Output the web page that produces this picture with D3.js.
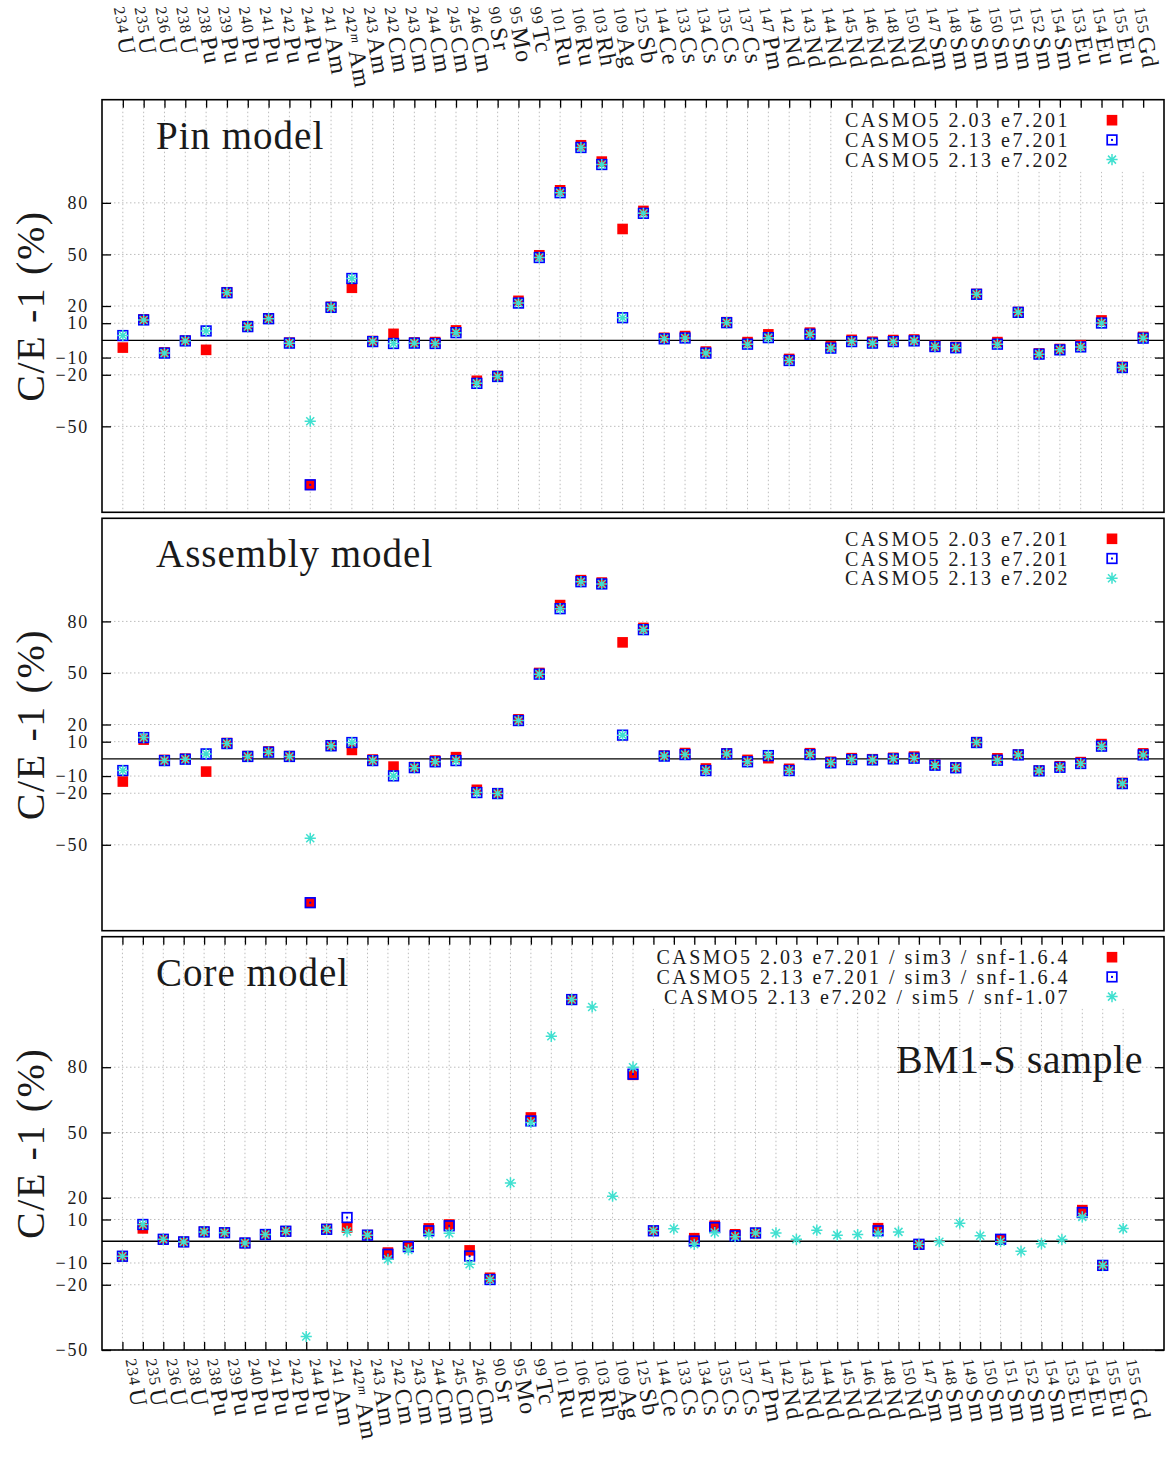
<!DOCTYPE html>
<html>
<head>
<meta charset="utf-8">
<script src="https://cdn.jsdelivr.net/npm/d3@7"></script>
<style>
  body { margin: 0; background: #fff; }
  svg { display: block; }
  text { font-family: "Liberation Serif", "Times New Roman", serif; fill: #1a1a1a; }
</style>
</head>
<body>
<svg id="chart" width="1169" height="1457"></svg>
<script>
// ---- nuclides (mass number, metastable flag, element) ----
const massNumbers = ["234","235","236","238","238","239","240","241","242","244",
  "241","242","243","242","243","244","245","246","90","95","99","101","106","103","109",
  "125","144","133","134","135","137","147","142","143","144","145","146","148","150",
  "147","148","149","150","151","152","154","153","154","155","155"];
const metastable = massNumbers.map((d, i) => i === 11 ? "m" : "");
const elements = ["U","U","U","U","Pu","Pu","Pu","Pu","Pu","Pu",
  "Am","Am","Am","Cm","Cm","Cm","Cm","Cm","Sr","Mo","Tc","Ru","Ru","Rh","Ag",
  "Sb","Ce","Cs","Cs","Cs","Cs","Pm","Nd","Nd","Nd","Nd","Nd","Nd","Nd",
  "Sm","Sm","Sm","Sm","Sm","Sm","Sm","Eu","Eu","Eu","Gd"];

const yTickValues = [-50, -20, -10, 10, 20, 50, 80];

const legendLabelsLattice = ["CASMO5 2.03 e7.201", "CASMO5 2.13 e7.201", "CASMO5 2.13 e7.202"];
const legendLabelsCore = ["CASMO5 2.03 e7.201 / sim3 / snf-1.6.4",
                          "CASMO5 2.13 e7.201 / sim3 / snf-1.6.4",
                          "CASMO5 2.13 e7.202 / sim5 / snf-1.07"];

// ---- C/E - 1 (%) : pin model ----
const pinV203 = [-4.2, 12.2, -7.0, -0.2, -5.5, 28.0, 8.3, 12.8, -1.3, -84.0,
  19.5, 30.6, -0.4, 3.8, -1.2, -1.0, 5.8, -23.5, -20.7, 23.0, 49.5, 87.3, 113.5, 104.0, 64.8,
  75.3, 1.5, 2.5, -6.5, 10.6, -1.0, 3.5, -10.8, 4.5, -3.5, 0.3, -0.8, 0.2, 0.5,
  -3.0, -3.8, 27.0, -1.0, 16.5, -7.6, -5.0, -2.8, 11.6, -15.4, 2.0];
const pinV213 = [2.8, 11.9, -7.4, -0.3, 5.5, 27.7, 8.0, 12.6, -1.6, -84.0,
  19.2, 36.0, -0.7, -1.8, -1.6, -1.8, 4.5, -25.0, -21.0, 21.7, 48.2, 85.9, 112.2, 102.3, 13.2,
  73.9, 0.9, 1.4, -7.4, 10.3, -2.2, 1.6, -11.7, 3.6, -4.5, -0.7, -1.6, -0.7, -0.3,
  -3.6, -4.3, 26.8, -2.2, 16.3, -8.0, -5.5, -3.8, 10.1, -15.8, 1.3];
const pinV213b = [2.8, 11.9, -7.4, -0.3, 5.5, 27.7, 8.0, 12.6, -1.6, -47.0,
  19.2, 36.0, -0.7, -1.8, -1.6, -1.8, 4.5, -25.0, -21.0, 21.7, 48.2, 85.9, 112.2, 102.3, 13.2,
  73.9, 0.9, 1.4, -7.4, 10.3, -2.2, 1.6, -11.7, 3.6, -4.5, -0.7, -1.6, -0.7, -0.3,
  -3.6, -4.3, 26.8, -2.2, 16.3, -8.0, -5.5, -3.8, 10.1, -15.8, 1.3];

// ---- C/E - 1 (%) : assembly model ----
const asmV203 = [-13.2, 11.2, -0.6, 0.1, -7.4, 9.2, 1.6, 4.3, 1.6, -83.7,
  7.9, 5.2, -0.4, -4.5, -4.8, -1.0, 1.0, -18.0, -20.0, 23.0, 50.0, 89.5, 104.0, 102.6, 67.8,
  76.2, 1.9, 3.4, -5.6, 3.2, -0.6, 0.4, -5.8, 3.3, -1.7, 0.4, -0.2, 0.6, 1.3,
  -3.4, -4.9, 9.7, 0.3, 2.5, -6.8, -4.3, -1.9, 8.6, -14.0, 3.2];
const asmV213 = [-6.8, 12.4, -1.0, -0.2, 2.9, 8.9, 1.4, 3.9, 1.4, -83.7,
  7.6, 9.5, -1.0, -9.9, -5.1, -1.7, -1.0, -19.6, -20.2, 22.3, 49.3, 87.4, 103.1, 101.8, 13.8,
  75.2, 1.6, 2.5, -6.8, 2.9, -1.7, 1.9, -6.8, 2.5, -2.3, -0.4, -0.6, 0.0, 0.4,
  -3.7, -5.2, 9.5, -0.8, 2.3, -7.0, -4.9, -2.7, 7.4, -14.4, 2.3];
const asmV213b = [-6.8, 12.4, -1.0, -0.2, 2.9, 8.9, 1.4, 3.9, 1.4, -46.2,
  7.6, 9.5, -1.0, -9.9, -5.1, -1.7, -1.0, -19.6, -20.2, 22.3, 49.3, 87.4, 103.1, 101.8, 13.8,
  75.2, 1.6, 2.5, -6.8, 2.9, -1.7, 1.9, -6.8, 2.5, -2.3, -0.4, -0.6, 0.0, 0.4,
  -3.7, -5.2, 9.5, -0.8, 2.3, -7.0, -4.9, -2.7, 7.4, -14.4, 2.3];

// ---- C/E - 1 (%) : core model (null = no measurement compared) ----
const coreV203 = [-6.9, 5.9, 0.9, -0.3, 4.3, 3.9, -0.8, 3.1, 4.6, null,
  5.6, 6.3, 2.8, -5.2, -2.2, 5.9, 7.7, -4.2, -16.8, null, 56.9, null, 111.1, null, null,
  76.5, 4.8, null, 1.4, 7.1, 3.2, 3.8, null, null, null, null, null, 6.0, null,
  -1.4, null, null, null, 0.9, null, null, null, 14.3, -11.1, null];
const coreV213 = [-6.9, 7.7, 0.9, -0.3, 4.3, 3.9, -0.8, 3.1, 4.6, null,
  5.5, 10.9, 2.8, -6.0, -2.5, 4.8, 7.1, -6.8, -17.6, null, 55.3, null, 111.1, null, null,
  76.8, 4.8, null, 0.1, 6.3, 2.5, 3.8, null, null, null, null, null, 4.8, null,
  -1.4, null, null, null, 0.9, null, null, null, 13.2, -11.1, null];
const coreV213b = [-6.9, 7.7, 0.9, -0.3, 4.3, 3.9, -0.8, 3.1, 4.6, -43.8,
  5.5, 4.5, 2.8, -8.3, -4.0, 3.2, 3.7, -10.6, -17.6, 26.8, 54.6, 94.2, 111.1, 107.7, 20.7,
  80.0, 4.8, 5.7, -1.4, 4.0, 2.1, 3.8, 3.8, 0.9, 5.1, 2.8, 3.1, 3.7, 4.3,
  -1.4, -0.2, 8.3, 2.5, -0.2, -4.6, -1.1, 0.8, 11.2, -11.1, 5.8];

// ---- layout ----
const svg = d3.select("#chart");
const X0 = 102, X1 = 1164;
const COL_RED = "#ff0000", COL_BLUE = "#0000ff", COL_CYAN = "#40e0d0";
const GRID = "#bdbdbd";

const panels = [
  { title: "Pin model", top: 99.7, bottom: 512.3, domain: [-100, 140], slots: 51,
    series: [pinV203, pinV213, pinV213b], legend: legendLabelsLattice,
    vGrid: true, topTicks: true, bottomTicks: false, legendBoxLeft: 843 },
  { title: "Assembly model", top: 518.3, bottom: 930.7, domain: [-100, 140], slots: 51,
    series: [asmV203, asmV213, asmV213b], legend: legendLabelsLattice,
    vGrid: false, topTicks: false, bottomTicks: false, legendBoxLeft: 843 },
  { title: "Core model", top: 936.7, bottom: 1350, domain: [-50, 140], slots: 52,
    series: [coreV203, coreV213, coreV213b], legend: legendLabelsCore,
    vGrid: true, topTicks: true, bottomTicks: true, legendBoxLeft: 645, note: "BM1-S sample" }
];

// marker painters
function redSquare(g) {
  g.append("rect").attr("x", -5.3).attr("y", -5.3).attr("width", 10.6).attr("height", 10.6)
    .attr("fill", COL_RED);
}
function blueBox(g) {
  g.append("rect").attr("x", -4.8).attr("y", -4.8).attr("width", 9.6).attr("height", 9.6)
    .attr("fill", "none").attr("stroke", COL_BLUE).attr("stroke-width", 1.7);
  g.append("rect").attr("x", -1).attr("y", -1).attr("width", 2).attr("height", 2)
    .attr("fill", COL_BLUE);
}
function cyanStar(g) {
  g.append("path")
    .attr("d", "M-5.6,0H5.6M0,-5.6V5.6M-4,-4L4,4M-4,4L4,-4")
    .attr("stroke", COL_CYAN).attr("stroke-width", 1.5).attr("fill", "none");
}
const painters = [redSquare, blueBox, cyanStar];

// isotope label: small mass number, larger element symbol
function isoLabel(parent, i, tx, ty) {
  const t = parent.append("text")
    .attr("transform", `translate(${tx},${ty}) rotate(80)`)
    .attr("letter-spacing", 1.2);
  t.append("tspan").attr("font-size", 16).attr("dy", -2).text(massNumbers[i]);
  let back = 2;
  if (metastable[i]) {
    t.append("tspan").attr("font-size", 13).attr("font-style", "italic")
      .attr("dy", -3).text(metastable[i]);
    back = 5;
  }
  t.append("tspan").attr("font-size", 24).attr("dx", metastable[i] ? 6 : 3)
    .attr("dy", back).text(elements[i]);
}

panels.forEach((p, pi) => {
  const g = svg.append("g");
  const x = d3.scaleLinear().domain([0, p.slots]).range([X0, X1]);
  const y = d3.scaleLinear().domain(p.domain).range([p.bottom, p.top]);
  const idx = d3.range(elements.length);

  // horizontal grid
  g.append("g").selectAll("line").data(yTickValues).join("line")
    .attr("x1", X0).attr("x2", X1).attr("y1", d => y(d)).attr("y2", d => y(d))
    .attr("stroke", GRID).attr("stroke-width", 1).attr("stroke-dasharray", "1.5,2.5");

  // vertical grid
  if (p.vGrid) {
    g.append("g").selectAll("line").data(idx).join("line")
      .attr("x1", i => x(i + 1)).attr("x2", i => x(i + 1))
      .attr("y1", p.top).attr("y2", p.bottom)
      .attr("stroke", GRID).attr("stroke-width", 1).attr("stroke-dasharray", "1.5,2.5");
  }

  // opaque legend background
  g.append("rect").attr("x", p.legendBoxLeft).attr("y", p.top + 6)
    .attr("width", X1 - 4 - p.legendBoxLeft).attr("height", 66).attr("fill", "#fff");

  // zero line
  g.append("line").attr("x1", X0).attr("x2", X1).attr("y1", y(0)).attr("y2", y(0))
    .attr("stroke", "#000").attr("stroke-width", 1.3);

  // points: three series layered red -> blue -> cyan
  p.series.forEach((vals, si) => {
    const pts = idx.filter(i => vals[i] !== null);
    g.append("g").selectAll("g").data(pts).join("g")
      .attr("transform", i => `translate(${x(i + 1)},${y(vals[i])})`)
      .each(function () { painters[si](d3.select(this)); });
  });

  // y axes (left labelled, right mirrored)
  const axL = d3.axisLeft(y).tickValues(yTickValues).tickSize(-9).tickPadding(13)
    .tickFormat(d3.format("d"));
  const gl = g.append("g").attr("transform", `translate(${X0},0)`).call(axL);
  gl.select(".domain").remove();
  gl.selectAll(".tick line").attr("stroke", "#000").attr("stroke-width", 1.3);
  gl.selectAll(".tick text").attr("font-size", 18).attr("letter-spacing", 1.8)
    .attr("fill", "#1a1a1a").style("font-family", "'Liberation Serif', serif");

  const axR = d3.axisRight(y).tickValues(yTickValues).tickSize(-9).tickFormat("");
  const gr = g.append("g").attr("transform", `translate(${X1},0)`).call(axR);
  gr.select(".domain").remove();
  gr.selectAll(".tick line").attr("stroke", "#000").attr("stroke-width", 1.3);

  // x ticks
  if (p.topTicks) {
    const axT = d3.axisTop(x).tickValues(idx.map(i => i + 1)).tickSize(-8).tickFormat("");
    const gt = g.append("g").attr("transform", `translate(0,${p.top})`).call(axT);
    gt.select(".domain").remove();
    gt.selectAll(".tick line").attr("stroke", "#000").attr("stroke-width", 1.3);
  }
  if (p.bottomTicks) {
    const axB = d3.axisBottom(x).tickValues(idx.map(i => i + 1)).tickSize(-8).tickFormat("");
    const gb = g.append("g").attr("transform", `translate(0,${p.bottom})`).call(axB);
    gb.select(".domain").remove();
    gb.selectAll(".tick line").attr("stroke", "#000").attr("stroke-width", 1.3);
  }

  // frame
  g.append("rect").attr("x", X0).attr("y", p.top).attr("width", X1 - X0)
    .attr("height", p.bottom - p.top).attr("fill", "none")
    .attr("stroke", "#000").attr("stroke-width", 1.6);

  // legend
  p.legend.forEach((lab, k) => {
    const cy = p.top + 20.5 + k * 19.7;
    g.append("text").attr("x", 1070).attr("y", cy + 7).attr("text-anchor", "end")
      .attr("font-size", 20).attr("letter-spacing", 2.5).text(lab);
    const m = g.append("g").attr("transform", `translate(1112,${cy})`);
    painters[k](m);
  });

  // panel title
  g.append("text").attr("x", 156).attr("y", p.top + 49).attr("font-size", 39)
    .attr("letter-spacing", 1).text(p.title);
  if (p.note) {
    g.append("text").attr("x", 1143).attr("y", 1072.5).attr("text-anchor", "end")
      .attr("font-size", 40).attr("letter-spacing", 0.5).text(p.note);
  }

  // y axis title
  g.append("text")
    .attr("transform", `translate(44,${(p.top + p.bottom) / 2}) rotate(-90)`)
    .attr("text-anchor", "middle").attr("font-size", 40).attr("letter-spacing", 1.6)
    .text("C/E -1 (%)");

  // isotope labels: above the first panel, below the last
  if (pi === 0) idx.forEach(i => isoLabel(svg, i, x(i + 1) - 11, 8));
  if (pi === panels.length - 1) idx.forEach(i => isoLabel(svg, i, x(i + 1) + 1, 1360));
});
</script>
</body>
</html>
